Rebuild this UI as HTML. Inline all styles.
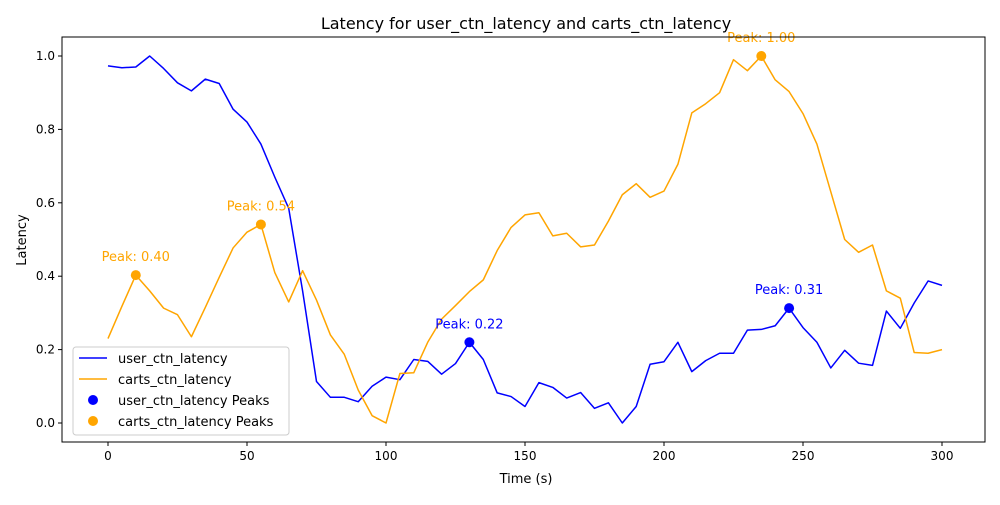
<!DOCTYPE html>
<html><head><meta charset="utf-8"><style>
body{margin:0;background:#fff;font-family:"Liberation Sans","DejaVu Sans",sans-serif}
svg text{font-family:"DejaVu Sans","Liberation Sans",sans-serif}
</style></head><body>
<svg id="chart" width="1000" height="500" xmlns="http://www.w3.org/2000/svg">
<rect width="1000" height="500" fill="#fff"/>
<g id="grid"></g>
<g id="marks"></g>
<g id="axes"></g>
</svg>
<script>
const times=[0,5,10,15,20,25,30,35,40,45,50,55,60,65,70,75,80,85,90,95,100,105,110,115,120,125,130,135,140,145,150,155,160,165,170,175,180,185,190,195,200,205,210,215,220,225,230,235,240,245,250,255,260,265,270,275,280,285,290,295,300];
const userLatency=[0.973,0.968,0.970,1.0,0.966,0.927,0.905,0.937,0.925,0.855,0.82,0.76,0.67,0.585,0.36,0.113,0.07,0.07,0.058,0.1,0.125,0.118,0.173,0.168,0.133,0.162,0.22,0.173,0.082,0.072,0.045,0.11,0.097,0.068,0.083,0.04,0.055,0.0,0.045,0.16,0.167,0.22,0.14,0.17,0.19,0.19,0.253,0.255,0.265,0.313,0.26,0.22,0.15,0.198,0.163,0.157,0.305,0.258,0.327,0.387,0.375];
const cartsLatency=[0.23,0.318,0.403,0.36,0.313,0.295,0.235,0.315,0.397,0.477,0.52,0.541,0.41,0.33,0.415,0.335,0.24,0.187,0.09,0.02,0.0,0.135,0.137,0.22,0.283,0.32,0.358,0.39,0.47,0.533,0.567,0.573,0.51,0.517,0.48,0.485,0.55,0.622,0.652,0.615,0.632,0.705,0.845,0.87,0.9,0.99,0.96,1.0,0.935,0.903,0.843,0.76,0.63,0.5,0.465,0.485,0.36,0.34,0.192,0.19,0.2];
const userPeakTimes=[130,245];
const userPeakValues=[0.22,0.313];
const cartsPeakTimes=[10,55,235];
const cartsPeakValues=[0.403,0.541,1.0];
const xTicks=[0,50,100,150,200,250,300];
const yTicks=[0.0,0.2,0.4,0.6,0.8,1.0];

const L=62,R=985,T=37,B=442;
const xs=t=>108+(t-0)*(942-108)/300;
const ys=v=>423-v*(423-56);
const NS="http://www.w3.org/2000/svg";
function mk(tag,attrs,parent,txt){const e=document.createElementNS(NS,tag);for(const k in attrs)e.setAttribute(k,attrs[k]);if(txt!==undefined)e.textContent=txt;parent.appendChild(e);return e;}
const marks=document.getElementById('marks'),axes=document.getElementById('axes');

function line(vals,color,name){
  const p=mk('polyline',{points:times.map((t,i)=>xs(t)+','+ys(vals[i])).join(' '),fill:'none',stroke:color,'stroke-width':1.5,'stroke-linejoin':'round'},marks);
  
  
}
line(userLatency,'#0000ff','user-latency-line');
line(cartsLatency,'#ffa500','carts-latency-line');
function peaks(ts,vs,color,name){
  ts.forEach((t,i)=>{
    const c=mk('circle',{cx:xs(t),cy:ys(vs[i]),r:5,fill:color},marks);
    
    
    const tx=mk('text',{x:xs(t),y:ys(vs[i])-14,'text-anchor':'middle','font-size':13,fill:color},marks,'Peak: '+vs[i].toFixed(2));
    
    
  });
}
peaks(userPeakTimes,userPeakValues,'#0000ff','user-peak');
peaks(cartsPeakTimes,cartsPeakValues,'#ffa500','carts-peak');

const frame=mk('rect',{x:L,y:T,width:R-L,height:B-T,fill:'none',stroke:'#000','stroke-width':1},axes);


xTicks.forEach(t=>{
  mk('line',{x1:xs(t),x2:xs(t),y1:B,y2:B+4,stroke:'#000'},axes);
  const tx=mk('text',{x:xs(t),y:B+18,'text-anchor':'middle','font-size':12},axes,t);
  
  
});
yTicks.forEach(v=>{
  mk('line',{x1:L-4,x2:L,y1:ys(v),y2:ys(v),stroke:'#000'},axes);
  const tx=mk('text',{x:L-7,y:ys(v)+4,'text-anchor':'end','font-size':12},axes,v.toFixed(1));
  
  
});
</script>
<svg style="position:absolute;left:0;top:0" width="1000" height="500" xmlns="http://www.w3.org/2000/svg">
<text x="526" y="29" text-anchor="middle" font-size="16" font-family="DejaVu Sans, sans-serif">Latency for user_ctn_latency and carts_ctn_latency</text>
<text x="526" y="483" text-anchor="middle" font-size="13" font-family="DejaVu Sans, sans-serif">Time (s)</text>
<text x="26" y="240" text-anchor="middle" font-size="13" font-family="DejaVu Sans, sans-serif" transform="rotate(-90 26 240)">Latency</text>
<g font-family="DejaVu Sans, sans-serif" font-size="13">
<rect x="73" y="347" width="216" height="88" rx="3" fill="#fff" fill-opacity="0.8" stroke="#ccc"/>
<line x1="79" x2="107" y1="358" y2="358" stroke="#0000ff" stroke-width="1.5"/>
<text x="118" y="363">user_ctn_latency</text>
<line x1="79" x2="107" y1="379" y2="379" stroke="#ffa500" stroke-width="1.5"/>
<text x="118" y="384">carts_ctn_latency</text>
<circle cx="93" cy="400" r="5" fill="#0000ff"/>
<text x="118" y="405">user_ctn_latency Peaks</text>
<circle cx="93" cy="421" r="5" fill="#ffa500"/>
<text x="118" y="426">carts_ctn_latency Peaks</text>
</g>
</svg>
</body></html>
